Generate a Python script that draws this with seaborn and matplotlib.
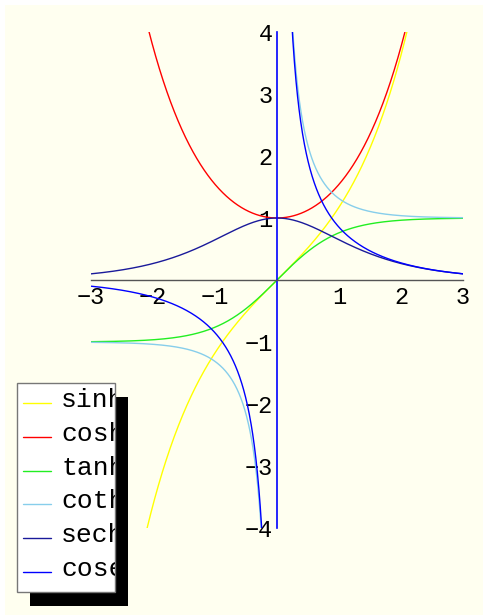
import numpy as np
import matplotlib
matplotlib.use("Agg")
import matplotlib.pyplot as plt
from matplotlib.patches import Rectangle
from matplotlib.lines import Line2D
from matplotlib.ticker import MultipleLocator
from matplotlib.transforms import Bbox, TransformedBbox
import seaborn as sns

sns.set_style("white")
plt.rcParams["font.family"] = ["Liberation Mono", "DejaVu Sans"]

# Hyperbolic functions shown, with their colours and legend labels
labels = ["sinh", "cosh", "tanh", "coth", "sech", "cosech"]
funcs = [np.sinh, np.cosh, np.tanh,
         lambda t: 1.0 / np.tanh(t),
         lambda t: 1.0 / np.cosh(t),
         lambda t: 1.0 / np.sinh(t)]
colors = ["#FFFF00", "#FF0000", "#22EE22", "#87CEEB", "#1A1A9A", "#0000FF"]
singular = [False, False, False, True, False, True]

x_range = (-3.0, 3.0)
y_range = (-4.0, 4.0)
x_ticks = [-3, -2, -1, 1, 2, 3]
x_ticklabels = ["\u22123", "\u22122", "\u22121", "1", "2", "3"]
y_ticks = [-4, -3, -2, -1, 1, 2, 3, 4]
y_ticklabels = ["\u22124", "\u22123", "\u22122", "\u22121", "1", "2", "3", "4"]

W, H = 483, 615
fig = plt.figure(figsize=(W / 100, H / 100), dpi=100)
fig.patch.set_facecolor("white")


def px_rect(x0, y0, x1, y1):
    return [x0 / W, 1 - y1 / H, (x1 - x0) / W, (y1 - y0) / H]


# ivory page behind the plot
bg = fig.add_axes([0, 0, 1, 1], zorder=0)
bg.set_xlim(0, W)
bg.set_ylim(H, 0)
bg.axis("off")
bg.add_patch(Rectangle((5, 5), W - 5, H - 5, facecolor="#FFFFF0", edgecolor="none"))

ax = fig.add_axes(px_rect(91, 32, 463, 528), zorder=1)
ax.patch.set_alpha(0)

for f, c, sing in zip(funcs, colors, singular):
    if sing:
        branches = [np.linspace(x_range[0], -1e-3, 600), np.linspace(1e-3, x_range[1], 600)]
    else:
        branches = [np.linspace(x_range[0], x_range[1], 800)]
    for xs in branches:
        ys = np.clip(f(xs), -6, 6)
        sns.lineplot(x=xs, y=ys, color=c, linewidth=1.0, sort=False,
                     estimator=None, ax=ax, legend=False)

ax.set_xlim(*x_range)
ax.set_ylim(*y_range)

# axes crossing at the origin
for side in ("top", "right"):
    ax.spines[side].set_visible(False)
ax.spines["left"].set_position(("data", 0))
ax.spines["bottom"].set_position(("data", 0))
ax.spines["left"].set_color("#0000FF")
ax.spines["left"].set_linewidth(1.2)
ax.spines["bottom"].set_color("#555555")
ax.spines["bottom"].set_linewidth(1.0)

ax.set_xticks(x_ticks)
ax.set_xticklabels(x_ticklabels)
ax.set_yticks(y_ticks)
ax.set_yticklabels(y_ticklabels)
ax.xaxis.set_minor_locator(MultipleLocator(0.2))
ax.yaxis.set_minor_locator(MultipleLocator(0.2))
ax.tick_params(which="both", direction="in", color="#555555", width=0.8)
ax.tick_params(which="major", length=5, labelsize=17, labelcolor="black")
ax.tick_params(axis="x", which="major", pad=4)
ax.tick_params(axis="y", which="major", pad=3)
ax.tick_params(which="minor", length=3)
ax.set_xlabel("")
ax.set_ylabel("")

# legend panel with drop shadow
lg = fig.add_axes([0, 0, 1, 1], zorder=2)
lg.set_xlim(0, W)
lg.set_ylim(H, 0)
lg.axis("off")
lg.patch.set_alpha(0)
lg.add_patch(Rectangle((30, 397), 98, 209, facecolor="black", edgecolor="none"))
box = Rectangle((17, 383), 98, 209, facecolor="white", edgecolor="#777777", linewidth=1.0)
lg.add_patch(box)
clip = TransformedBbox(Bbox([[17, 383], [115, 592]]), lg.transData)
for i, (lab, c) in enumerate(zip(labels, colors)):
    yy = 403 + i * 33.8
    lg.add_line(Line2D([23, 51], [yy, yy], color=c, linewidth=1.0))
    t = lg.text(61, yy - 3, lab, fontsize=19, va="center", ha="left", color="black")
    t.set_clip_on(True)
    t.set_clip_box(clip)

fig.savefig("out.png", dpi=100, facecolor=fig.get_facecolor())
